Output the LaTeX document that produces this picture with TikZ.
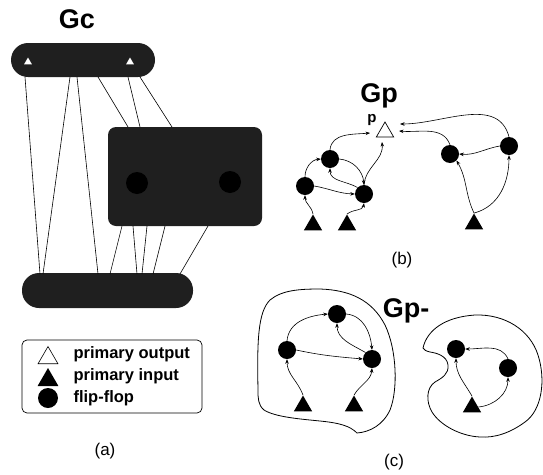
\documentclass[tikz,border=0pt]{standalone}
\usepackage{fontspec}
\setmainfont{Liberation Sans}
\usetikzlibrary{arrows.meta,shapes.geometric}
\begin{document}
\begin{tikzpicture}[x=1pt,y=-1pt,
  conn/.style={line width=0.6pt},
  arr/.style={line width=0.6pt,-{Stealth[length=4.5pt,width=3.5pt]}},
  ff/.style={circle,fill=black,inner sep=0pt,minimum size=18pt},
  pin/.style={regular polygon,regular polygon sides=3,fill=black,inner sep=0pt,minimum size=21pt},
  smallout/.style={regular polygon,regular polygon sides=3,fill=white,inner sep=0pt,minimum size=9pt},
  cluster/.style={fill=black!88},
  title/.style={font=\bfseries\fontsize{27}{29}\selectfont},
  caption/.style={font=\fontsize{17}{19}\selectfont},
  legtext/.style={font=\bfseries\fontsize{16.5}{18}\selectfont,anchor=west},
  blob/.style={line width=0.8pt}
]
\path[use as bounding box] (0,0) rectangle (543,474);

% ---------------- (a) ----------------
\node[title] (gc) at (77,19) {Gc};
\node[cluster,rounded corners=17pt,minimum width=144pt,minimum height=34pt,inner sep=0pt] (top) at (83,60) {};
\node[cluster,rounded corners=8pt,minimum width=154pt,minimum height=99pt,inner sep=0pt] (mid) at (185,176.5) {};
\node[cluster,rounded corners=17pt,minimum width=171pt,minimum height=35pt,inner sep=0pt] (bot) at (107.5,290.5) {};
\node[smallout] (to1) at (28,62) {};
\node[smallout] (to2) at (130,62) {};
\node[circle,fill=black,inner sep=0pt,minimum size=22pt] (mb1) at (137,183) {};
\node[circle,fill=black,inner sep=0pt,minimum size=22pt] (mb2) at (230,182) {};

\coordinate (t1) at (25,77);  \coordinate (t2) at (70,77);  \coordinate (t3) at (77,77);
\coordinate (t4) at (98,77);  \coordinate (t5) at (128,77); \coordinate (t6) at (140,77);
\coordinate (m1) at (128,127); \coordinate (m2) at (140,127); \coordinate (m3) at (172,127);
\coordinate (m4) at (122,226); \coordinate (m5) at (133,226); \coordinate (m6) at (147,226);
\coordinate (m7) at (165,226); \coordinate (m8) at (208,226);
\coordinate (b1) at (40,274);  \coordinate (b2) at (43,274);  \coordinate (b3) at (98,274);
\coordinate (b4) at (110,274); \coordinate (b5) at (137,274); \coordinate (b6) at (142,274);
\coordinate (b7) at (153,274); \coordinate (b8) at (180,274);
\draw[conn] (t1) -- (b1);
\draw[conn] (t2) -- (b2);
\draw[conn] (t3) -- (b3);
\draw[conn] (t4) -- (m1);
\draw[conn] (t5) -- (m2);
\draw[conn] (t6) -- (m3);
\draw[conn] (m4) -- (b4);
\draw[conn] (m5) -- (b5);
\draw[conn] (m6) -- (b6);
\draw[conn] (m7) -- (b7);
\draw[conn] (m8) -- (b8);

% legend
\node[draw,rounded corners=5pt,line width=0.7pt,minimum width=180pt,minimum height=73pt,inner sep=0pt] (legend) at (112,376.5) {};
\node[regular polygon,regular polygon sides=3,draw=black,fill=white,line width=0.6pt,inner sep=0pt,minimum size=23pt] (lg1) at (48,358) {};
\node[regular polygon,regular polygon sides=3,fill=black,inner sep=0pt,minimum size=24pt] (lg2) at (48,380) {};
\node[circle,fill=black,inner sep=0pt,minimum size=20pt] (lg3) at (48,398) {};
\node[legtext] (lt1) at (70,354) {primary output};
\node[legtext] (lt2) at (70,376) {primary input};
\node[legtext] (lt3) at (70,398) {flip-flop};
\node[caption] (capa) at (105,451) {(a)};

% ---------------- (b) ----------------
\node[title] (gp) at (379,96) {Gp};
\node[regular polygon,regular polygon sides=3,draw=black,fill=white,line width=0.7pt,inner sep=0pt,minimum size=20pt] (p) at (385,132) {};
\node[font=\bfseries\fontsize{15}{16}\selectfont] (plab) at (372,120) {p};
\node[ff] (A) at (305,186) {};
\node[ff] (B) at (330,159) {};
\node[ff] (C) at (364,194) {};
\node[ff] (D) at (450,154) {};
\node[ff] (E) at (509,146) {};
\node[pin] (T1) at (313,225) {};
\node[pin] (T2) at (347,225) {};
\node[pin] (T3) at (474,224) {};
\coordinate (pl) at (370,133);
\coordinate (pr1) at (399,131);
\coordinate (pr2) at (400,124);
\coordinate (pb) at (382,142);

\draw[arr] (T1.north) to[out=100,in=-90] (A.south);
\draw[arr] (A.north) to[out=90,in=185] (B.west);
\draw[arr] (A.east) to[out=-10,in=178] (C.west);
\draw[arr] (B.east) to[out=-5,in=95] (C.north);
\draw[arr] (C.north west) to[out=150,in=-90] (B.south);
\draw[arr] (B.north) to[out=85,in=185] (pl);
\draw[arr] (C.north) to[out=85,in=-85] (pb);
\draw[arr] (T2.north) to[out=40,in=-100] (C.south);
\draw[arr] (T3.north) to[out=115,in=-60] (D.south east);
\draw[arr] (T3.north) to[out=15,in=-90] (E.south);
\draw[arr] (E.west) to[out=190,in=-5] (D.east);
\draw[arr] (D.north) to[out=110,in=-5] (pr1);
\draw[arr] (E.north) to[out=105,in=0] (pr2);
\node[caption] (capb) at (402,260) {(b)};

% ---------------- (c) ----------------
\node[title] (gpm) at (406,311) {Gp-};
\draw[blob] (258,390) .. controls (257,340) and (258,312) .. (270,300)
  .. controls (282,290) and (300,289) .. (320,289)
  .. controls (350,290) and (372,300) .. (385,325)
  .. controls (397,350) and (398,390) .. (390,410)
  .. controls (383,425) and (370,432) .. (357,433)
  .. controls (350,426) and (340,423) .. (320,421)
  .. controls (300,419) and (275,417) .. (264,410)
  .. controls (258,405) and (258,398) .. (258,390) -- cycle;
\draw[blob] (423,348) .. controls (427,330) and (445,317) .. (475,315)
  .. controls (505,314) and (530,330) .. (538,355)
  .. controls (546,380) and (542,410) .. (525,422)
  .. controls (510,433) and (495,438) .. (480,437)
  .. controls (460,436) and (440,425) .. (432,412)
  .. controls (426,402) and (426,388) .. (435,382)
  .. controls (442,378) and (449,374) .. (448,365)
  .. controls (447,356) and (437,353) .. (430,352)
  .. controls (426,351) and (424,350) .. (423,348) -- cycle;
\node[ff] (Ac) at (287,350) {};
\node[ff] (Bc) at (337,314) {};
\node[ff] (Cc) at (372,359) {};
\node[ff] (Dc) at (456,349) {};
\node[ff] (Ec) at (508,368) {};
\node[pin] (T1c) at (303,406) {};
\node[pin] (T2c) at (354,406) {};
\node[pin] (T3c) at (472,407) {};
\draw[arr] (T1c.north) to[out=110,in=-90] (Ac.south);
\draw[arr] (Ac.north) to[out=85,in=185] (Bc.west);
\draw[arr] (Ac.east) to[out=-12,in=175] (Cc.west);
\draw[arr] (Bc.east) to[out=-5,in=95] (Cc.north);
\draw[arr] (Cc.north west) to[out=150,in=-90] (Bc.south);
\draw[arr] (T2c.north) to[out=60,in=-95] (Cc.south);
\draw[arr] (T3c.north) to[out=120,in=-90] (Dc.south);
\draw[arr] (T3c.east) to[out=5,in=-90] (Ec.south);
\draw[arr] (Ec.north) to[out=115,in=0] (Dc.east);
\node[caption] (capc) at (394,462) {(c)};
\end{tikzpicture}
\end{document}
